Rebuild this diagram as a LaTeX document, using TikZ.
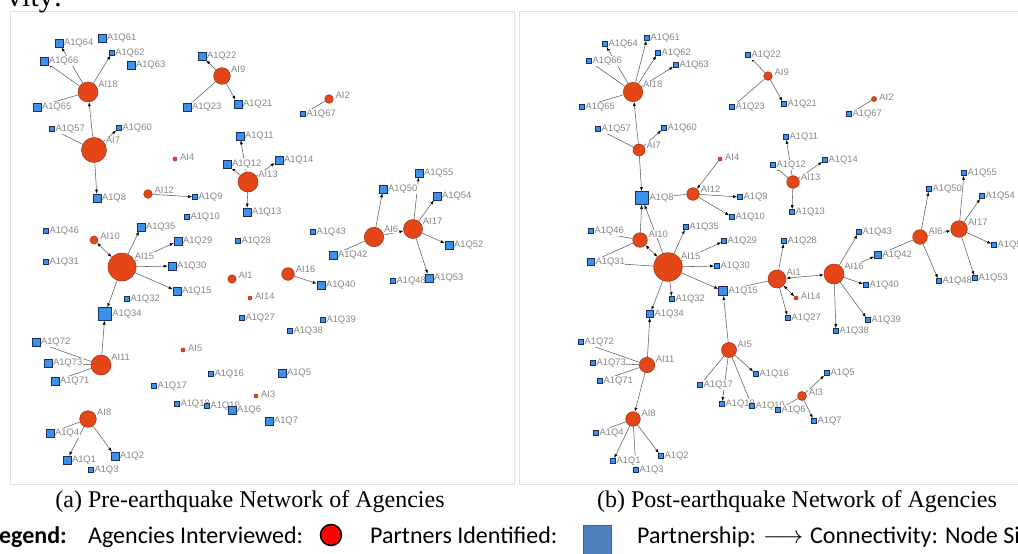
\documentclass[tikz,border=0pt]{standalone}
\usepackage{fontspec}
\setmainfont{Liberation Serif}
\newfontfamily\labfont{Liberation Sans}
\newfontfamily\legfont{Carlito}
\usetikzlibrary{arrows.meta}
\pgfdeclarelayer{bgl}
\pgfdeclarelayer{edges}
\pgfsetlayers{bgl,edges,main}
\definecolor{agc}{RGB}{228,70,24}
\definecolor{agb}{RGB}{160,45,15}
\definecolor{pqc}{RGB}{60,145,235}
\definecolor{pqb}{RGB}{25,45,95}
\definecolor{labc}{RGB}{135,135,135}
\definecolor{edc}{RGB}{95,95,95}
\definecolor{legblue}{RGB}{79,129,189}
\definecolor{legblueb}{RGB}{60,100,150}
\tikzset{
 ag/.style={circle,fill=agc,draw=agb,line width=0.5pt,inner sep=0pt,minimum size=#1},
 pq/.style={rectangle,fill=pqc,draw=pqb,line width=0.6pt,inner sep=0pt,minimum size=#1},
 lab/.style={font=\labfont\fontsize{9.4}{10}\selectfont,text=labc,inner sep=0.5pt,fill=white},
 ed/.style={draw=edc,line width=0.55pt},
 ar/.style={ed,-{Latex[length=4pt,width=3pt,color=black]}},
 bi/.style={ed,{Latex[length=4pt,width=3pt,color=black]}-{Latex[length=4pt,width=3pt,color=black]}},
 legtxt/.style={font=\legfont\fontsize{24}{26}\selectfont,inner sep=0pt},
 captxt/.style={font=\fontsize{24}{26}\selectfont,inner sep=0pt},
 frame/.style={draw=black!12,line width=0.6pt},
}
\newcommand\Ag[5]{\node[ag=#4pt,label={[lab,anchor=west,xshift=3pt]50:#5}] (#1) at (#2,#3) {};}
\newcommand\Pq[5]{\node[pq=#4pt,label={[lab,anchor=west]0:#5}] (#1) at (#2,#3) {};}
\begin{document}
\begin{tikzpicture}[x=1pt,y=-1pt]
\useasboundingbox (0,0) rectangle (1018,554);
\clip (0,0) rectangle (1018,554);
\begin{pgfonlayer}{bgl}
\fill[white] (0,0) rectangle (1018,554);
\draw[frame] (10,11) rectangle (514,484);
\draw[frame] (519,11) rectangle (1030,484);
\end{pgfonlayer}
\node[anchor=base west,font=\fontsize{30}{32}\selectfont,inner sep=0pt] (cut) at (7,6) {vity:};
% ---------------- LEFT PANEL ----------------
\Ag{LAI18}{88}{92}{20}{AI18}
\Ag{LAI7}{94}{150}{25}{AI7}
\Ag{LAI9}{222}{76}{16.6}{AI9}
\Ag{LAI13}{248}{182}{20}{AI13}
\Ag{LAI4}{175}{159}{4}{AI4}
\Ag{LAI12}{148}{194}{8.6}{AI12}
\Ag{LAI2}{329}{99}{8.6}{AI2}
\Ag{LAI6}{374}{237}{19.4}{AI6}
\Ag{LAI17}{413}{229}{19}{AI17}
\Ag{LAI10}{94}{240}{8}{AI10}
\Ag{LAI15}{122}{267}{28}{AI15}
\Ag{LAI1}{232}{279}{8.4}{AI1}
\Ag{LAI5}{183}{350}{4}{AI5}
\Ag{LAI14}{250}{298}{4}{AI14}
\Ag{LAI16}{288}{274}{12.6}{AI16}
\Ag{LAI11}{101}{365}{20}{AI11}
\Ag{LAI8}{88}{419}{16.6}{AI8}
\Ag{LAI3}{256}{396}{4}{AI3}
\Pq{LQ64}{59}{43}{8}{A1Q64}
\Pq{LQ61}{102}{38}{8}{A1Q61}
\Pq{LQ66}{44}{61}{8}{A1Q66}
\Pq{LQ62}{112}{53}{4.5}{A1Q62}
\Pq{LQ63}{131}{65}{8}{A1Q63}
\Pq{LQ65}{37}{107}{8}{A1Q65}
\Pq{LQ57}{52}{129}{5}{A1Q57}
\Pq{LQ60}{119}{128}{5}{A1Q60}
\Pq{LQ8}{97}{198}{8}{A1Q8}
\Pq{LQ9}{195}{197}{5}{A1Q9}
\Pq{LQ10}{187}{217}{5}{A1Q10}
\Pq{LQ46}{46}{231}{5}{A1Q46}
\Pq{LQ35}{141}{227}{8}{A1Q35}
\Pq{LQ22}{202}{56}{8}{A1Q22}
\Pq{LQ23}{187}{107}{8}{A1Q23}
\Pq{LQ21}{238}{104}{8}{A1Q21}
\Pq{LQ11}{240}{136}{8}{A1Q11}
\Pq{LQ12}{227}{164}{8}{A1Q12}
\Pq{LQ14}{279}{160}{8}{A1Q14}
\Pq{LQ13}{247}{212}{8}{A1Q13}
\Pq{LQ67}{303}{114}{5}{A1Q67}
\Pq{LQ55}{419}{173}{8}{A1Q55}
\Pq{LQ50}{383}{189}{8}{A1Q50}
\Pq{LQ54}{437}{196}{8}{A1Q54}
\Pq{LQ43}{313}{232}{5}{A1Q43}
\Pq{LQ28}{238}{241}{5}{A1Q28}
\Pq{LQ29}{178}{241}{8}{A1Q29}
\Pq{LQ31}{46}{262}{5}{A1Q31}
\Pq{LQ30}{172}{266}{8}{A1Q30}
\Pq{LQ15}{177}{291}{8}{A1Q15}
\Pq{LQ32}{127}{299}{5}{A1Q32}
\Pq{LQ34}{105}{314}{12.7}{A1Q34}
\Pq{LQ72}{36}{342}{8}{A1Q72}
\Pq{LQ73}{48}{363}{8}{A1Q73}
\Pq{LQ71}{55}{381}{8}{A1Q71}
\Pq{LQ16}{211}{374}{5}{A1Q16}
\Pq{LQ17}{154}{386}{5}{A1Q17}
\Pq{LQ18}{177}{404}{5}{A1Q18}
\Pq{LQ19}{207}{406}{5}{A1Q19}
\Pq{LQ6}{232}{410}{8}{A1Q6}
\Pq{LQ4}{50}{433}{8}{A1Q4}
\Pq{LQ1}{67}{460}{8}{A1Q1}
\Pq{LQ2}{115}{456}{8}{A1Q2}
\Pq{LQ3}{91}{470}{5}{A1Q3}
\Pq{LQ27}{242}{318}{5}{A1Q27}
\Pq{LQ52}{449}{245}{8}{A1Q52}
\Pq{LQ42}{333}{255}{8}{A1Q42}
\Pq{LQ40}{321}{285}{8}{A1Q40}
\Pq{LQ48}{393}{281}{5}{A1Q48}
\Pq{LQ53}{429}{278}{8}{A1Q53}
\Pq{LQ39}{323}{320}{5}{A1Q39}
\Pq{LQ38}{290}{331}{5}{A1Q38}
\Pq{LQ5}{282}{373}{8}{A1Q5}
\Pq{LQ7}{269}{421}{8}{A1Q7}
\begin{pgfonlayer}{edges}
\draw[ar] (LAI18) -- (LQ64);
\draw[ar] (LAI18) -- (LQ66);
\draw[ar] (LAI18) -- (LQ62);
\draw[ed] (LAI18) -- (LQ65);
\draw[ar] (LAI7) -- (LAI18);
\draw[ed] (LAI7) -- (LQ57);
\draw[ar] (LAI7) -- (LQ60);
\draw[ar] (LAI7) -- (LQ8);
\draw[ar] (LAI12) -- (LQ9);
\draw[ar] (LAI9) -- (LQ22);
\draw[ed] (LAI9) -- (LQ23);
\draw[ar] (LAI9) -- (LQ21);
\draw[ar] (LAI13) -- (LQ11);
\draw[ar] (LAI13) -- (LQ12);
\draw[ar] (LAI13) -- (LQ14);
\draw[ar] (LAI13) -- (LQ13);
\draw[ed] (LAI2) -- (LQ67);
\draw[ar] (LAI6) -- (LQ50);
\draw[ed] (LAI6) -- (LQ42);
\draw[ar] (LAI6) -- (LAI17);
\draw[ar] (LAI17) -- (LQ55);
\draw[ar] (LAI17) -- (LQ54);
\draw[ar] (LAI17) -- (LQ52);
\draw[ar] (LAI17) -- (LQ53);
\draw[ar] (LAI16) -- (LQ40);
\draw[bi] (LAI15) -- (LAI10);
\draw[ar] (LAI15) -- (LQ35);
\draw[ar] (LAI15) -- (LQ29);
\draw[ar] (LAI15) -- (LQ30);
\draw[ar] (LAI15) -- (LQ15);
\draw[ar] (LAI15) -- (LQ34);
\draw[ar] (LAI11) -- (LQ34);
\draw[ed] (LAI11) -- (LQ72);
\draw[ed] (LAI11) -- (LQ73);
\draw[ed] (LAI11) -- (LQ71);
\draw[ed] (LAI8) -- (LQ4);
\draw[ar] (LAI8) -- (LQ1);
\draw[ar] (LAI8) -- (LQ2);
\end{pgfonlayer}
% ---------------- RIGHT PANEL ----------------
\Ag{RAI18}{633}{92}{19.4}{AI18}
\Ag{RAI7}{639}{150}{12}{AI7}
\Ag{RAI9}{768}{76}{8.6}{AI9}
\Ag{RAI4}{720}{159}{4}{AI4}
\Ag{RAI12}{693}{194}{12.6}{AI12}
\Ag{RAI2}{874}{99}{5}{AI2}
\Ag{RAI13}{793}{182}{12.6}{AI13}
\Ag{RAI6}{920}{237}{14.6}{AI6}
\Ag{RAI17}{959}{229}{16.6}{AI17}
\Ag{RAI10}{640}{240}{14.6}{AI10}
\Ag{RAI15}{668}{267}{28.6}{AI15}
\Ag{RAI11}{647}{365}{15.4}{AI11}
\Ag{RAI5}{729}{350}{15}{AI5}
\Ag{RAI8}{633}{419}{14.6}{AI8}
\Ag{RAI1}{777}{279}{18}{AI1}
\Ag{RAI16}{834}{274}{20}{AI16}
\Ag{RAI14}{796}{298}{4}{AI14}
\Ag{RAI3}{802}{396}{9}{AI3}
\Pq{RQ64}{605}{44}{5}{A1Q64}
\Pq{RQ61}{647}{38}{5}{A1Q61}
\Pq{RQ66}{589}{61}{5}{A1Q66}
\Pq{RQ62}{658}{53}{5}{A1Q62}
\Pq{RQ63}{676}{65}{5}{A1Q63}
\Pq{RQ65}{582}{107}{5}{A1Q65}
\Pq{RQ57}{598}{129}{5}{A1Q57}
\Pq{RQ60}{664}{128}{5}{A1Q60}
\Pq{RQ22}{748}{55}{5}{A1Q22}
\Pq{RQ23}{732}{107}{5}{A1Q23}
\Pq{RQ21}{784}{104}{5}{A1Q21}
\Pq{RQ67}{849}{114}{5}{A1Q67}
\Pq{RQ11}{786}{137}{5}{A1Q11}
\Pq{RQ12}{773}{165}{5}{A1Q12}
\Pq{RQ14}{825}{160}{5}{A1Q14}
\Pq{RQ13}{792}{212}{5}{A1Q13}
\Pq{RQ8}{642}{198}{13}{A1Q8}
\Pq{RQ9}{740}{197}{5}{A1Q9}
\Pq{RQ10}{732}{217}{5}{A1Q10}
\Pq{RQ46}{591}{231}{5}{A1Q46}
\Pq{RQ35}{686}{227}{5}{A1Q35}
\Pq{RQ55}{964}{173}{5}{A1Q55}
\Pq{RQ50}{929}{189}{5}{A1Q50}
\Pq{RQ54}{982}{196}{5}{A1Q54}
\Pq{RQ43}{859}{232}{5}{A1Q43}
\Pq{RQ29}{724}{241}{5}{A1Q29}
\Pq{RQ31}{591}{262}{7}{A1Q31}
\Pq{RQ30}{717}{266}{5}{A1Q30}
\Pq{RQ15}{723}{291}{9}{A1Q15}
\Pq{RQ32}{672}{299}{5}{A1Q32}
\Pq{RQ34}{650}{314}{7}{A1Q34}
\Pq{RQ72}{581}{342}{5}{A1Q72}
\Pq{RQ73}{593}{363}{5}{A1Q73}
\Pq{RQ71}{600}{381}{5}{A1Q71}
\Pq{RQ16}{756}{374}{5}{A1Q16}
\Pq{RQ17}{700}{385}{5}{A1Q17}
\Pq{RQ18}{722}{404}{5}{A1Q18}
\Pq{RQ19}{752}{406}{5}{A1Q19}
\Pq{RQ6}{778}{410}{5}{A1Q6}
\Pq{RQ4}{596}{433}{5}{A1Q4}
\Pq{RQ1}{613}{461}{5}{A1Q1}
\Pq{RQ2}{661}{456}{5}{A1Q2}
\Pq{RQ3}{636}{470}{5}{A1Q3}
\Pq{RQ28}{784}{241}{5}{A1Q28}
\Pq{RQ42}{878}{255}{7}{A1Q42}
\Pq{RQ40}{866}{285}{5}{A1Q40}
\Pq{RQ48}{939}{281}{5}{A1Q48}
\Pq{RQ53}{975}{278}{5}{A1Q53}
\Pq{RQ52}{994}{245}{5}{A1Q52}
\Pq{RQ27}{788}{318}{5}{A1Q27}
\Pq{RQ39}{868}{320}{5}{A1Q39}
\Pq{RQ38}{836}{331}{5}{A1Q38}
\Pq{RQ5}{827}{373}{5}{A1Q5}
\Pq{RQ7}{814}{421}{5}{A1Q7}
\begin{pgfonlayer}{edges}
\draw[ar] (RAI18) -- (RQ64);
\draw[ed] (RAI18) -- (RQ66);
\draw[ar] (RAI18) -- (RQ61);
\draw[ar] (RAI18) -- (RQ62);
\draw[ar] (RAI18) -- (RQ63);
\draw[ed] (RAI18) -- (RQ65);
\draw[ar] (RAI7) -- (RAI18);
\draw[ed] (RAI7) -- (RQ57);
\draw[ar] (RAI7) -- (RQ60);
\draw[ar] (RAI7) -- (RQ8);
\draw[ed] (RAI12) -- (RQ8);
\draw[ar] (RAI4) -- (RAI12);
\draw[ar] (RAI12) -- (RQ9);
\draw[ar] (RAI12) -- (RQ10);
\draw[ar] (RAI10) -- (RQ8);
\draw[ar] (RAI15) -- (RQ8);
\draw[ed] (RAI10) -- (RQ46);
\draw[ed] (RAI10) -- (RQ31);
\draw[bi] (RAI10) -- (RAI15);
\draw[ed] (RAI15) -- (RQ31);
\draw[ar] (RAI15) -- (RQ35);
\draw[ar] (RAI15) -- (RQ29);
\draw[ar] (RAI15) -- (RQ30);
\draw[ar] (RAI15) -- (RQ15);
\draw[ar] (RAI15) -- (RQ32);
\draw[ar] (RAI15) -- (RQ34);
\draw[ar] (RAI11) -- (RQ34);
\draw[ed] (RAI11) -- (RQ72);
\draw[ed] (RAI11) -- (RQ73);
\draw[ed] (RAI11) -- (RQ71);
\draw[ar] (RAI11) -- (RAI8);
\draw[ed] (RAI8) -- (RQ4);
\draw[ar] (RAI8) -- (RQ1);
\draw[ed] (RAI8) -- (RQ3);
\draw[ar] (RAI8) -- (RQ2);
\draw[ar] (RAI5) -- (RQ15);
\draw[ed] (RAI5) -- (RQ17);
\draw[ar] (RAI5) -- (RQ18);
\draw[ed] (RAI5) -- (RQ19);
\draw[ar] (RAI5) -- (RQ16);
\draw[ed] (RAI1) -- (RQ15);
\draw[ar] (RAI1) -- (RQ28);
\draw[bi] (RAI1) -- (RAI16);
\draw[bi] (RAI1) -- (RAI14);
\draw[ar] (RAI1) -- (RQ27);
\draw[ar] (RAI16) -- (RQ43);
\draw[ar] (RAI16) -- (RQ42);
\draw[ar] (RAI16) -- (RQ40);
\draw[ar] (RAI16) -- (RQ39);
\draw[ar] (RAI16) -- (RQ38);
\draw[ed] (RAI6) -- (RQ42);
\draw[ar] (RAI6) -- (RQ50);
\draw[ar] (RAI6) -- (RQ48);
\draw[ar] (RAI6) -- (RAI17);
\draw[ar] (RAI17) -- (RQ55);
\draw[ar] (RAI17) -- (RQ54);
\draw[ar] (RAI17) -- (RQ52);
\draw[ar] (RAI17) -- (RQ53);
\draw[ar] (RAI9) -- (RQ22);
\draw[ed] (RAI9) -- (RQ23);
\draw[ar] (RAI9) -- (RQ21);
\draw[ar] (RAI13) -- (RQ11);
\draw[ar] (RAI13) -- (RQ12);
\draw[ar] (RAI13) -- (RQ14);
\draw[ar] (RAI13) -- (RQ13);
\draw[ed] (RAI2) -- (RQ67);
\draw[ar] (RAI3) -- (RQ5);
\draw[ed] (RAI3) -- (RQ6);
\draw[ar] (RAI3) -- (RQ7);
\end{pgfonlayer}
% ---------------- CAPTIONS AND LEGEND ----------------
\node[captxt,anchor=base] (capa) at (250,507) {(a) Pre-earthquake Network of Agencies};
\node[captxt,anchor=base] (capb) at (797,507) {(b) Post-earthquake Network of Agencies};
\node[legtxt,anchor=base east,font=\legfont\bfseries\fontsize{24}{26}\selectfont] (lg) at (67,543) {Legend:};
\node[legtxt,anchor=base west] (l1) at (88,543) {Agencies Interviewed:};
\node[circle,fill=red,draw=black,line width=1.5pt,minimum width=21pt,inner sep=0pt] (l2) at (331,535) {};
\node[legtxt,anchor=base west] (l3) at (370,543) {Partners Identified:};
\node[rectangle,fill=legblue,draw=legblueb,line width=0.6pt,minimum width=28pt,minimum height=32pt,inner sep=0pt] (l4) at (597,541) {};
\node[legtxt,anchor=base west] (l5) at (637,543) {Partnership:};
\node[legtxt,anchor=base west] (l6) at (763,543) {$\longrightarrow$};
\node[legtxt,anchor=base west] (l7) at (810,543) {Connectivity: Node Size};
\end{tikzpicture}
\end{document}
